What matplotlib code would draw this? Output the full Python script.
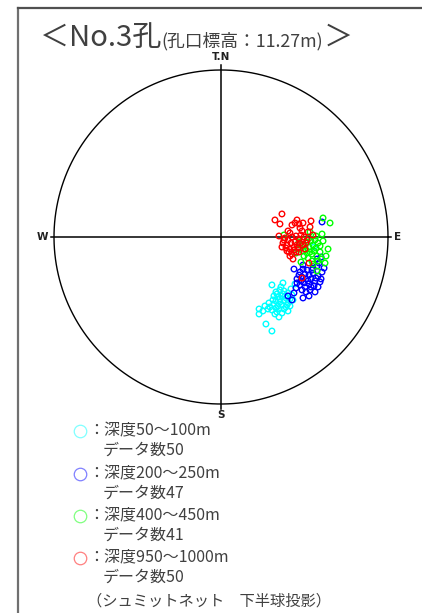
import matplotlib
matplotlib.use("Agg")
import matplotlib.pyplot as plt
import numpy as np

plt.rcParams['font.family'] = ['Noto Sans CJK JP', 'DejaVu Sans']

# Poles on the Schmidt net (lower hemisphere), unit-circle coordinates: east, north
cyan_x = [0.557, 0.305, 0.371, 0.443, 0.329, 0.353, 0.377, 0.401, 0.425, 0.317,
          0.341, 0.365, 0.389, 0.413, 0.329, 0.353, 0.377, 0.401, 0.341, 0.365,
          0.389, 0.317, 0.293, 0.281, 0.251, 0.228, 0.228, 0.323, 0.335, 0.401,
          0.269, 0.305, 0.353, 0.371, 0.311, 0.347, 0.383, 0.419, 0.335, 0.359,
          0.287, 0.395, 0.431, 0.377, 0.329, 0.413, 0.263, 0.365, 0.305, 0.347]
cyan_y = [-0.060, -0.287, -0.275, -0.281, -0.329, -0.317, -0.323, -0.335, -0.347, -0.353,
          -0.359, -0.353, -0.365, -0.371, -0.383, -0.389, -0.383, -0.395, -0.413, -0.407,
          -0.419, -0.401, -0.419, -0.431, -0.443, -0.431, -0.461, -0.461, -0.449, -0.443,
          -0.521, -0.563, -0.371, -0.341, -0.377, -0.431, -0.353, -0.311, -0.341, -0.299,
          -0.395, -0.407, -0.377, -0.431, -0.425, -0.413, -0.413, -0.455, -0.437, -0.479]

blue_x = [0.605, 0.599, 0.575, 0.437, 0.491, 0.551, 0.575, 0.473, 0.503, 0.527,
          0.551, 0.581, 0.605, 0.485, 0.509, 0.539, 0.563, 0.593, 0.497, 0.527,
          0.557, 0.581, 0.455, 0.473, 0.503, 0.485, 0.509, 0.425, 0.491, 0.455,
          0.545, 0.521, 0.569, 0.449, 0.533, 0.617, 0.467, 0.515, 0.539, 0.479,
          0.587, 0.437, 0.401, 0.599, 0.491, 0.563, 0.527]
blue_y = [0.090, -0.120, -0.132, -0.192, -0.192, -0.186, -0.174, -0.210, -0.222, -0.228,
          -0.216, -0.234, -0.210, -0.240, -0.251, -0.251, -0.263, -0.269, -0.275, -0.281,
          -0.293, -0.299, -0.275, -0.287, -0.299, -0.317, -0.329, -0.377, -0.365, -0.251,
          -0.198, -0.263, -0.246, -0.305, -0.317, -0.186, -0.228, -0.198, -0.299, -0.263,
          -0.156, -0.335, -0.353, -0.251, -0.168, -0.329, -0.353]

green_x = [0.611, 0.653, 0.377, 0.605, 0.533, 0.491, 0.515, 0.539, 0.563, 0.581,
           0.503, 0.527, 0.551, 0.569, 0.593, 0.509, 0.533, 0.641, 0.491, 0.515,
           0.545, 0.575, 0.629, 0.479, 0.545, 0.581, 0.575, 0.473, 0.557, 0.593,
           0.467, 0.527, 0.449, 0.611, 0.497, 0.599, 0.569, 0.461, 0.521, 0.551,
           0.623]
green_y = [0.114, 0.084, 0.012, 0.018, 0.030, -0.018, -0.030, -0.024, -0.018, -0.036,
           -0.054, -0.060, -0.048, -0.066, -0.054, -0.078, -0.090, -0.072, -0.084, -0.096,
           -0.102, -0.114, -0.114, -0.150, -0.144, -0.144, -0.204, -0.048, -0.084, -0.090,
           -0.030, -0.006, -0.096, -0.024, -0.114, -0.132, 0.006, -0.072, -0.126, -0.162,
           -0.156]

red_x = [0.365, 0.323, 0.353, 0.455, 0.425, 0.443, 0.467, 0.491, 0.539, 0.533,
         0.473, 0.485, 0.521, 0.401, 0.413, 0.551, 0.347, 0.383, 0.401, 0.425,
         0.449, 0.467, 0.497, 0.515, 0.371, 0.395, 0.419, 0.443, 0.473, 0.491,
         0.389, 0.413, 0.437, 0.461, 0.503, 0.407, 0.425, 0.449, 0.413, 0.395,
         0.431, 0.527, 0.485, 0.377, 0.455, 0.479, 0.509, 0.365, 0.437, 0.467]
red_y = [0.138, 0.102, 0.078, 0.102, 0.072, 0.084, 0.078, 0.084, 0.096, 0.060,
         0.054, 0.036, 0.030, 0.036, 0.024, 0.012, 0.006, -0.006, -0.018, 0.000,
         0.006, -0.012, 0.000, -0.018, -0.036, -0.048, -0.036, -0.030, -0.036, -0.048,
         -0.066, -0.072, -0.060, -0.066, -0.072, -0.090, -0.102, -0.090, -0.114, -0.084,
         -0.132, -0.156, -0.246, -0.018, -0.048, 0.012, -0.036, -0.060, -0.078, -0.090]

groups = [
    ('深度50～100m', 'データ数50', cyan_x, cyan_y, '#00ffff', '#80ffff'),
    ('深度200～250m', 'データ数47', blue_x, blue_y, '#0000ff', '#8080ff'),
    ('深度400～450m', 'データ数41', green_x, green_y, '#00ff00', '#80ff80'),
    ('深度950～1000m', 'データ数50', red_x, red_y, '#ff0000', '#ff8080'),
]

W, H = 422, 613
fig = plt.figure(figsize=(W / 100, H / 100), dpi=100)
txt_color = '#404040'

# outer frame (left and top edges)
fig.add_artist(plt.Line2D([18 / W, 18 / W], [0, 1 - 8 / H], color='#707070', lw=1.6))
fig.add_artist(plt.Line2D([18 / W, 1.01], [1 - 8 / H, 1 - 8 / H], color='#505050', lw=1.6))

# net axes: centre (221, 237) px, radius 167 px
cx, cy, R = 221, 237, 167
lim = 1.1
ax = fig.add_axes([(cx - lim * R) / W, 1 - (cy + lim * R) / H, 2 * lim * R / W, 2 * lim * R / H])
ax.set_xlim(-lim, lim)
ax.set_ylim(-lim, lim)
ax.set_aspect('equal')
ax.axis('off')

t = np.linspace(0, 2 * np.pi, 400)
ax.plot(np.cos(t), np.sin(t), color='black', lw=1.0)
ax.plot([-1.02, 1.02], [0, 0], color='black', lw=1.1)
ax.plot([0, 0], [-1.03, 1.03], color='black', lw=1.1)

for lab, sub, xs, ys, c, lc in groups:
    ax.scatter(xs, ys, s=16, facecolors='none', edgecolors=c, linewidths=1.0, zorder=3)

dirfont = dict(family=['Liberation Sans Narrow', 'DejaVu Sans'], fontsize=7.5,
               fontweight='bold', color='#202020')
ax.text(0, 1.045, 'T.N', ha='center', va='bottom', **dirfont)
ax.text(0, -1.035, 'S', ha='center', va='top', **dirfont)
ax.text(-1.035, 0, 'W', ha='right', va='center', **dirfont)
ax.text(1.035, 0, 'E', ha='left', va='center', **dirfont)

# title pieces placed one after another
renderer = fig.canvas.get_renderer()
x0 = 40 / W
ybase = 1 - 46 / H
pieces = [('＜', 21), ('No.3孔', 21), ('(孔口標高：11.27m)', 12.8), ('＞', 21)]
for s, fs in pieces:
    tt = fig.text(x0, ybase, s, fontsize=fs, color=txt_color, ha='left', va='baseline')
    bb = tt.get_window_extent(renderer)
    x0 += bb.width / W

# legend block
rows = [431, 474, 516, 558]
for (lab, sub, xs, ys, c, lc), yr in zip(groups, rows):
    fig.add_artist(plt.Line2D([80 / W], [1 - yr / H], marker='o', markersize=9,
                              markerfacecolor='none', markeredgecolor=lc, markeredgewidth=0.9))
    fig.text(88 / W, 1 - yr / H, '：' + lab, fontsize=11.5, color=txt_color,
             ha='left', va='center')
    fig.text(103 / W, 1 - (yr + 19) / H, sub, fontsize=11.5, color=txt_color,
             ha='left', va='center')
fig.text(87 / W, 1 - 601 / H, '（シュミットネット　下半球投影）', fontsize=11,
         color=txt_color, ha='left', va='center')

fig.savefig('out.png', dpi=100)
